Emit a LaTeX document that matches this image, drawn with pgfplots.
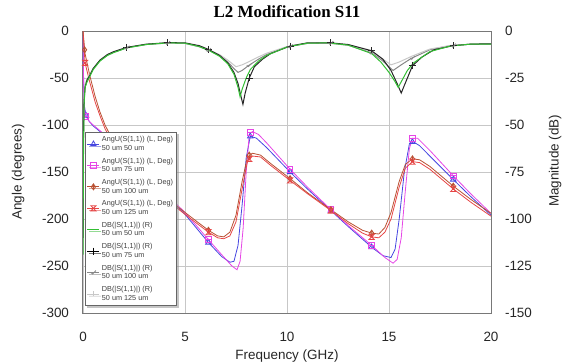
\documentclass[border=0pt]{standalone}
\usepackage{pgfplots}
\pgfplotsset{compat=1.18}
\usepackage{fontspec}
\setmainfont{Liberation Sans}
\newfontfamily\titlefont{Liberation Serif}
\usetikzlibrary{shadows}

\definecolor{cblue}{RGB}{70,70,225}
\definecolor{cmag}{RGB}{230,70,230}
\definecolor{cdred}{RGB}{185,80,50}
\definecolor{cred}{RGB}{230,70,70}
\definecolor{cgreen}{RGB}{50,190,50}
\definecolor{cgray}{RGB}{135,135,135}
\definecolor{clgray}{RGB}{200,200,200}
\definecolor{frame}{RGB}{120,120,120}

\pgfdeclareplotmark{sqminus}{%
  \pgfpathrectangle{\pgfpoint{-\pgfplotmarksize}{-\pgfplotmarksize}}{\pgfpoint{2\pgfplotmarksize}{2\pgfplotmarksize}}%
  \pgfpathmoveto{\pgfpoint{-\pgfplotmarksize}{0pt}}\pgfpathlineto{\pgfpoint{\pgfplotmarksize}{0pt}}%
  \pgfusepathqstroke}
\pgfdeclareplotmark{diaplus}{%
  \pgfpathmoveto{\pgfpoint{0pt}{\pgfplotmarksize}}\pgfpathlineto{\pgfpoint{0.7\pgfplotmarksize}{0pt}}%
  \pgfpathlineto{\pgfpoint{0pt}{-\pgfplotmarksize}}\pgfpathlineto{\pgfpoint{-0.7\pgfplotmarksize}{0pt}}\pgfpathclose
  \pgfpathmoveto{\pgfpoint{0pt}{\pgfplotmarksize}}\pgfpathlineto{\pgfpoint{0pt}{-\pgfplotmarksize}}%
  \pgfusepathqstroke}
\pgfdeclareplotmark{hourglass}{%
  \pgfpathmoveto{\pgfpoint{-\pgfplotmarksize}{\pgfplotmarksize}}\pgfpathlineto{\pgfpoint{\pgfplotmarksize}{\pgfplotmarksize}}%
  \pgfpathlineto{\pgfpoint{-\pgfplotmarksize}{-\pgfplotmarksize}}\pgfpathlineto{\pgfpoint{\pgfplotmarksize}{-\pgfplotmarksize}}\pgfpathclose
  \pgfpathmoveto{\pgfpoint{-0.5\pgfplotmarksize}{0pt}}\pgfpathlineto{\pgfpoint{0.5\pgfplotmarksize}{0pt}}%
  \pgfusepathqstroke}
\pgfdeclareplotmark{check}{%
  \pgfpathmoveto{\pgfpoint{-\pgfplotmarksize}{0pt}}\pgfpathlineto{\pgfpoint{-0.3\pgfplotmarksize}{-0.6\pgfplotmarksize}}%
  \pgfpathlineto{\pgfpoint{\pgfplotmarksize}{0.8\pgfplotmarksize}}\pgfusepathqstroke}

\pgfplotsset{
  common/.style={
    at={(0,0)}, anchor=south west, scale only axis,
    width=408bp, height=282bp,
    xmin=0, xmax=20,
    major tick length=0pt,
    axis line style={frame, line width=1bp},
    tick label style={font=\fontsize{13.5}{15}\selectfont, text=black!85},
    /pgf/number format/assume math mode=true,
    label style={font=\fontsize{13.5}{15}\selectfont, text=black!85},
  }
}

\begin{document}
\begin{tikzpicture}
\useasboundingbox (-83bp,-51bp) rectangle (483bp,313bp);

% ---------------- Left axis: angle ----------------
\begin{axis}[common,
  ymin=-300, ymax=0,
  xtick={0,5,10,15,20}, ytick={-300,-250,-200,-150,-100,-50,0},
  grid=major, grid style={black!22, line width=0.7bp},
  xticklabel style={yshift=-16bp},
  yticklabel style={xshift=-10.5bp},
  xlabel={Frequency (GHz)},
  xlabel style={at={(axis description cs:0.5,-0.152)}, anchor=center},
  ylabel={Angle (degrees)},
  ylabel style={at={(axis description cs:-0.159,0.5)}, anchor=center},
  title={\titlefont\bfseries L2 Modification S11},
  title style={at={(axis description cs:0.5,1)}, anchor=base, yshift=8bp, font=\fontsize{17}{19}\selectfont},
  every axis plot/.append style={line width=0.8bp},
]
% blue 50 um 50 um
\addplot[cblue, no marks] coordinates {
(0,-5) (0.03,-50) (0.07,-80) (0.15,-90) (0.3,-96) (0.5,-101) (1,-110) (2,-130) (3,-152) (4,-174) (5,-195)
(6.15,-225) (6.8,-240) (7.2,-246) (7.4,-245) (7.6,-228) (7.8,-185) (8.0,-135) (8.2,-112) (8.5,-114) (9,-124)
(10.15,-150) (11,-168) (12.15,-191) (13,-208) (14.15,-230) (14.7,-239) (15.1,-241) (15.3,-232) (15.5,-200)
(15.75,-150) (16.0,-120) (16.2,-118) (16.5,-122) (17,-133) (18.15,-158) (19,-176) (20,-196)};
% magenta 50 um 75 um
\addplot[cmag, no marks] coordinates {
(0,-5) (0.03,-55) (0.07,-83) (0.15,-91) (0.3,-96) (0.5,-100) (1,-109) (2,-129) (3,-151) (4,-172) (5,-193)
(6.15,-222) (6.8,-238) (7.3,-250) (7.55,-254) (7.7,-245) (7.85,-210) (8.0,-150) (8.15,-110) (8.3,-107) (8.6,-110)
(9,-119) (10.15,-147) (11,-166) (12.15,-190) (13,-207) (14.15,-228) (14.8,-241) (15.2,-247) (15.4,-243)
(15.6,-220) (15.8,-170) (16.0,-125) (16.15,-114) (16.4,-114) (17,-127) (18.15,-154) (19,-173) (20,-194)};
% dark red 50 um 100 um
\addplot[cdred, no marks] coordinates {
(0,0) (0.1,-24) (0.34,-48) (0.6,-70) (0.83,-86) (1.08,-100) (1.5,-118) (2,-133) (3,-156) (4,-176) (5,-193)
(5.6,-203) (6.15,-212) (6.6,-218) (6.9,-219) (7.2,-214) (7.5,-196) (7.8,-160) (8.05,-135) (8.3,-130)
(8.7,-132) (9.2,-141) (10.15,-157) (11,-172) (12.15,-190) (13,-203) (13.7,-212) (14.15,-215) (14.5,-216)
(14.8,-209) (15.1,-193) (15.5,-160) (15.8,-142) (16.15,-136) (16.5,-137) (17,-144) (18.15,-165) (19,-179) (20,-194)};
% red 50 um 125 um
\addplot[cred, no marks] coordinates {
(0,0) (0.1,-34) (0.34,-55) (0.6,-76) (0.83,-90) (1.08,-104) (1.5,-121) (2,-135) (3,-158) (4,-178) (5,-195)
(5.6,-205) (6.15,-214) (6.6,-220) (6.9,-221) (7.2,-218) (7.5,-203) (7.8,-168) (8.05,-140) (8.3,-133)
(8.7,-134) (9.2,-143) (10.15,-159) (11,-173) (12.15,-191) (13,-205) (13.7,-215) (14.15,-219) (14.5,-220)
(14.8,-214) (15.1,-200) (15.5,-166) (15.8,-146) (16.15,-139) (16.5,-140) (17,-147) (18.15,-168) (19,-182) (20,-197)};
% markers
\addplot[cblue, only marks, mark=triangle, mark size=3.2bp, mark options={solid, line width=0.8bp}] coordinates {
(0.15,-90) (2.15,-133) (4.15,-177) (6.15,-225) (8.2,-112) (10.15,-150) (12.15,-191) (14.15,-230) (16.15,-118) (18.15,-158)};
\addplot[cmag, only marks, mark=sqminus, mark size=2.8bp, mark options={solid, line width=0.8bp}] coordinates {
(0.15,-91) (2.15,-132) (4.15,-175) (6.15,-222) (8.2,-108) (10.15,-147) (12.15,-190) (14.15,-228) (16.15,-114) (18.15,-154)};
\addplot[cdred, only marks, mark=diaplus, mark size=3bp, mark options={solid, line width=0.8bp}] coordinates {
(0.08,-20) (2.15,-136) (4.15,-179) (6.15,-212) (8.15,-132) (10.15,-157) (12.15,-190) (14.15,-215) (16.15,-136) (18.15,-165)};
\addplot[cred, only marks, mark=hourglass, mark size=2.6bp, mark options={solid, line width=0.8bp}] coordinates {
(0.1,-34) (2.15,-139) (4.15,-181) (6.15,-214) (8.15,-136) (10.15,-159) (12.15,-191) (14.15,-219) (16.15,-139) (18.15,-168)};
\end{axis}

% ---------------- Right axis: magnitude ----------------
\begin{axis}[common,
  ymin=-150, ymax=0,
  axis y line*=right, axis x line=none,
  ytick={-150,-125,-100,-75,-50,-25,0},
  yticklabel style={xshift=10.5bp},
  ylabel={Magnitude (dB)},
  ylabel style={at={(axis description cs:1.157,0.54)}, anchor=center},
  every axis plot/.append style={line width=1bp},
  legend image code/.code={\draw[mark repeat=2,mark phase=2,#1] plot coordinates {(0bp,0bp) (6bp,0bp) (12bp,0bp)};},
  legend cell align=left,
  legend style={at={(rel axis cs:0.005,0.642)}, anchor=north west,
    font=\fontsize{7.3}{8.6}\selectfont, text=black!75,
    draw=black!60, line width=0.8bp, fill=white,
    drop shadow={shadow xshift=2bp, shadow yshift=-2bp, fill=black!45},
    cells={align=left}, row sep=2.1bp, inner xsep=1.5bp, inner ysep=2bp},
]
\addplot[cgray, no marks, forget plot] coordinates {
(0,-105) (0.02,-58) (0.05,-37) (0.1,-29) (0.2,-26) (0.34,-23.5) (0.5,-20) (0.83,-15.8) (1.2,-12.8) (1.5,-11.3)
(2.15,-8.9) (3.1,-7.2) (4.15,-6.4) (5,-6.6) (5.7,-8.4) (6.2,-10.4) (6.7,-13) (7.1,-16.5) (7.4,-20) (7.6,-22)
(7.8,-21) (8.1,-18.5) (8.6,-15) (9,-12.5) (10,-8.5) (11,-6.6) (12,-6.4) (13,-7.6) (14.15,-11.5) (14.7,-16)
(15.2,-21) (15.6,-18) (16.1,-14.5) (17,-10) (18,-7.8) (19,-7) (20,-7)};
\addplot[clgray, no marks, forget plot] coordinates {
(0,-100) (0.02,-56) (0.05,-36) (0.1,-28.5) (0.2,-25.5) (0.34,-23) (0.5,-19.8) (0.83,-15.6) (1.2,-12.6) (1.5,-11.2)
(2.15,-8.8) (3.1,-7.1) (4.15,-6.4) (5,-6.6) (5.7,-8.3) (6.2,-10.2) (6.7,-12.6) (7.1,-15.5) (7.5,-19)
(7.8,-18) (8.1,-16.5) (8.6,-13.8) (9,-11.8) (10,-8.3) (11,-6.6) (12,-6.4) (13,-7.5) (14.15,-11) (14.7,-15)
(15.1,-18) (15.5,-16.5) (16.1,-13.5) (17,-9.6) (18,-7.7) (19,-7) (20,-7)};
\addplot[black!85, no marks, forget plot] coordinates {
(0,-110) (0.02,-60) (0.05,-38) (0.1,-30) (0.2,-26) (0.34,-23.5) (0.5,-20) (0.83,-15.5) (1.2,-12.5) (1.5,-11)
(2.15,-8.7) (3.1,-7) (4.15,-6.2) (5,-6.3) (5.7,-7.8) (6.15,-9.8) (6.7,-13) (7.1,-17) (7.4,-22) (7.6,-28)
(7.75,-35) (7.84,-39) (7.95,-33) (8.15,-25) (8.4,-19) (8.8,-15) (9.2,-12) (10.15,-8) (11,-6.3) (12.15,-6.3)
(13,-7.2) (14.15,-10.5) (14.7,-15) (15.1,-21) (15.4,-28) (15.6,-33) (15.75,-29) (16.15,-18.5) (16.6,-14)
(17.2,-10) (18.15,-7.8) (19,-7) (20,-6.8)};
\addplot[cgreen, no marks, forget plot] coordinates {
(0,-119) (0.02,-70) (0.05,-40) (0.1,-30) (0.2,-27) (0.34,-24) (0.5,-20.5) (0.83,-16) (1.2,-13) (1.5,-11.5)
(2.15,-9) (3.1,-7.2) (4.15,-6.3) (5,-6.5) (5.7,-8.3) (6.2,-10.5) (6.7,-13.5) (7.1,-17.5) (7.4,-23) (7.6,-30)
(7.7,-35) (7.8,-31) (8,-25) (8.2,-20.5) (8.6,-16) (9,-13) (10,-8.5) (11,-6.5) (12,-6.3) (13,-7.5) (14.15,-12)
(14.6,-16.5) (15,-22) (15.3,-27) (15.45,-30) (15.6,-27) (15.9,-21) (16.2,-17) (17,-11) (18,-8) (19,-7) (20,-7)};
\addplot[black!85, only marks, mark=+, mark size=3.5bp, mark options={line width=0.8bp}, forget plot] coordinates {
(2.15,-8.7) (4.15,-6.2) (6.15,-9.8) (8.15,-25) (10.15,-8) (12.15,-6.3) (14.15,-10.5) (16.15,-18.5) (18.15,-7.8)};
\addplot[cgray, only marks, mark=check, mark size=2.5bp, mark options={line width=0.7bp}, forget plot] coordinates {
(2.15,-8.9) (4.15,-6.4) (6.15,-10.2) (8.15,-18.2) (10.15,-8.2) (12.15,-6.4) (14.15,-11.5) (16.15,-14.3) (18.15,-7.8)};

\addlegendimage{cblue, line width=0.8bp, mark=triangle, mark size=3bp, mark options={solid}}
\addlegendentry{AngU(S(1,1)) (L, Deg)\\50 um 50 um}
\addlegendimage{cmag, line width=0.8bp, mark=sqminus, mark size=2.8bp}
\addlegendentry{AngU(S(1,1)) (L, Deg)\\50 um 75 um}
\addlegendimage{cdred, line width=0.8bp, mark=diaplus, mark size=3bp}
\addlegendentry{AngU(S(1,1)) (L, Deg)\\50 um 100 um}
\addlegendimage{cred, line width=0.8bp, mark=hourglass, mark size=2.6bp}
\addlegendentry{AngU(S(1,1)) (L, Deg)\\50 um 125 um}
\addlegendimage{cgreen, line width=1bp}
\addlegendentry{DB(|S(1,1)|) (R)\\50 um 50 um}
\addlegendimage{black, line width=0.8bp, mark=+, mark size=3.5bp}
\addlegendentry{DB(|S(1,1)|) (R)\\50 um 75 um}
\addlegendimage{cgray, line width=0.8bp, mark=check, mark size=2.5bp}
\addlegendentry{DB(|S(1,1)|) (R)\\50 um 100 um}
\addlegendimage{clgray, line width=0.8bp, mark=|, mark size=2.5bp}
\addlegendentry{DB(|S(1,1)|) (R)\\50 um 125 um}
\end{axis}
\end{tikzpicture}
\end{document}
